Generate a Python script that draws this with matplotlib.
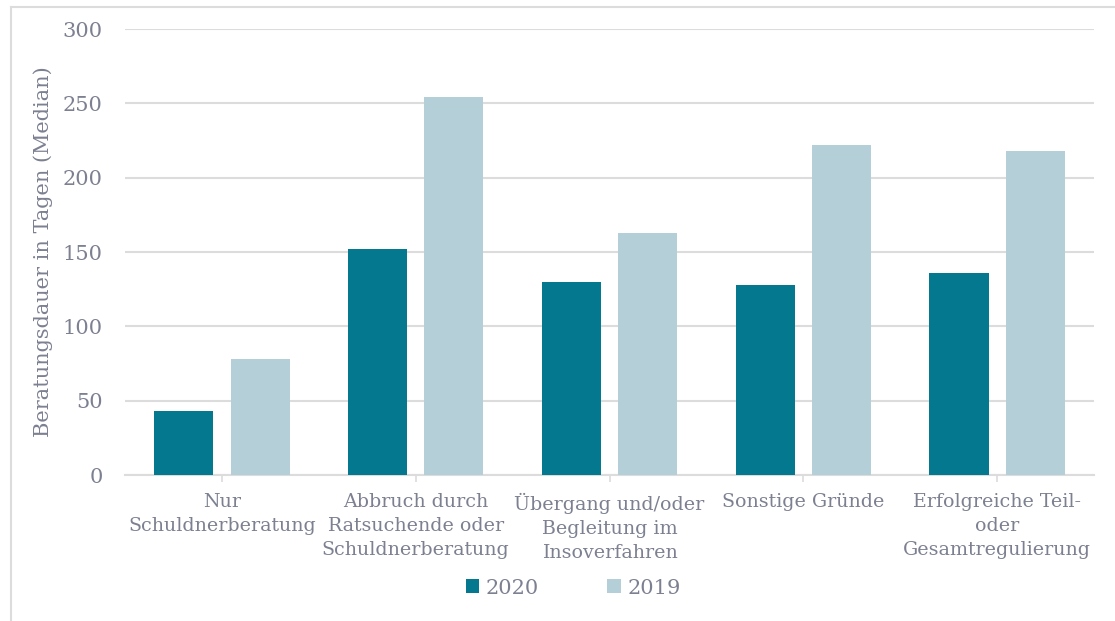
import matplotlib
matplotlib.use("Agg")
import matplotlib.pyplot as plt
import numpy as np
from matplotlib.lines import Line2D

# Daten
kategorien = ["Nur\nSchuldnerberatung",
              "Abbruch durch\nRatsuchende oder\nSchuldnerberatung",
              "Übergang und/oder\nBegleitung im\nInsoverfahren",
              "Sonstige Gründe",
              "Erfolgreiche Teil-\noder\nGesamtregulierung"]
werte_2020 = [43, 152, 130, 128, 136]
werte_2019 = [78, 254, 163, 222, 218]
y_ticks = [0, 50, 100, 150, 200, 250, 300]

farbe_2020 = "#03788f"
farbe_2019 = "#b5cfd8"
textfarbe = "#7c8090"
gitter = "#dcdcdc"

plt.rcParams['font.family'] = ['DejaVu Serif']

fig = plt.figure(figsize=(11.15, 6.21), dpi=100)
ax = fig.add_axes([0.1121, 0.2351, 0.8691, 0.7182])

x = np.arange(len(kategorien))
breite = 0.305
versatz = 0.197
ax.bar(x - versatz, werte_2020, breite, color=farbe_2020, label="2020", zorder=3)
ax.bar(x + versatz, werte_2019, breite, color=farbe_2019, label="2019", zorder=3)

ax.set_xlim(-0.5, len(kategorien) - 0.5)
ax.set_ylim(0, 300)
ax.set_yticks(y_ticks)
ax.yaxis.grid(True, color=gitter, linewidth=1.5, zorder=0)
ax.set_axisbelow(True)

for s in ["top", "right", "left"]:
    ax.spines[s].set_visible(False)
ax.spines["bottom"].set_color(gitter)
ax.spines["bottom"].set_linewidth(1.5)

ax.set_xticks(x)
ax.set_xticklabels(kategorien, fontsize=13.7, color=textfarbe, linespacing=1.42)
ax.tick_params(axis="x", length=5, width=1.2, color=gitter, pad=8)
ax.tick_params(axis="y", length=0, pad=16, labelsize=15, labelcolor=textfarbe)

ax.set_ylabel("Beratungsdauer in Tagen (Median)", fontsize=15, color=textfarbe, labelpad=7)

leg = fig.legend(loc="center", bbox_to_anchor=(0.514, 0.053), ncol=2, frameon=False,
                 fontsize=15, handlelength=0.65, handleheight=0.65, handletextpad=0.3,
                 columnspacing=3.3)
for t in leg.get_texts():
    t.set_color(textfarbe)

# Rahmen oben und links
fig.add_artist(Line2D([11 / 1115, 1], [1 - 7 / 621, 1 - 7 / 621], transform=fig.transFigure,
                      color=gitter, linewidth=1.5))
fig.add_artist(Line2D([11 / 1115, 11 / 1115], [0, 1 - 7 / 621], transform=fig.transFigure,
                      color=gitter, linewidth=1.5))

fig.savefig("out.png", dpi=100, facecolor="white")
